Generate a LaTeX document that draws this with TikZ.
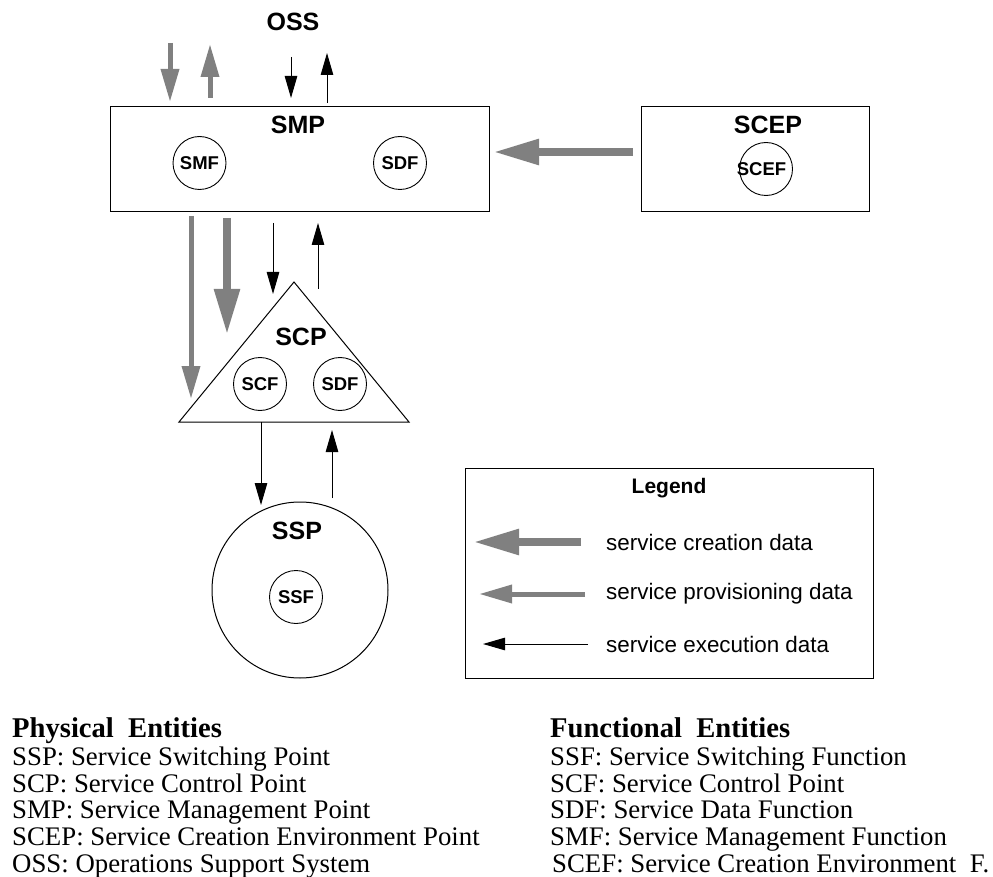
\documentclass[tikz,border=0pt]{standalone}
\usepackage{fontspec}
\setmainfont{Liberation Serif}
\newfontfamily\hv{Liberation Sans}
\usetikzlibrary{arrows.meta}
\definecolor{grayarr}{RGB}{128,128,128}
\begin{document}
\begin{tikzpicture}[x=1pt,y=-1pt,
  box/.style={draw,line width=1pt,inner sep=0pt},
  big/.style={font=\hv\bfseries\fontsize{25}{25}\selectfont,inner sep=0pt},
  fn/.style={circle,draw,line width=0.9pt,minimum size=53pt,inner sep=0pt,font=\hv\bfseries\fontsize{18.5}{18.5}\selectfont},
  creat/.style={draw=grayarr,line width=8.5pt,-{Triangle[length=46pt,width=24pt]}},
  prov/.style={draw=grayarr,line width=5pt,-{Triangle[length=33pt,width=17.5pt]}},
  exec/.style={draw=black,line width=1pt,-{Triangle[length=22pt,width=12.5pt]}},
  legtxt/.style={anchor=west,inner sep=0pt,font=\hv\fontsize{22.4}{22.4}\selectfont},
  btxt/.style={anchor=base west,inner sep=0pt,font=\fontsize{26.8}{26.8}\selectfont},
  bhead/.style={anchor=base west,inner sep=0pt,font=\bfseries\fontsize{28.6}{28.6}\selectfont},
]
\useasboundingbox (0,0) rectangle (993,877);

% OSS
\node[big] (oss) at (293,22) {OSS};

% SMP
\node[box,minimum width=379pt,minimum height=105pt] (smp) at (299.5,159.5) {};
\node[big] (smplbl) at (298,125) {SMP};
\node[fn] (smf) at (199.5,163) {SMF};
\node[fn] (sdf1) at (400,163) {SDF};

% SCEP
\node[box,minimum width=228pt,minimum height=105pt] (scep) at (755,159.5) {};
\node[big] (sceplbl) at (768,125) {SCEP};
\node[circle,draw,line width=0.9pt,minimum size=53pt,inner sep=0pt] (scefc) at (766,169) {};
\node[inner sep=0pt,font=\hv\bfseries\fontsize{18.5}{18.5}\selectfont] (scef) at (761.5,169) {SCEF};

% SCP triangle
\draw[line width=1pt,line join=miter] (179,422) coordinate (tl) -- (294,282) coordinate (tp) -- (409,422) coordinate (tr) -- cycle;
\node[big] (scplbl) at (301,337) {SCP};
\node[fn] (scf) at (260,384) {SCF};
\node[fn] (sdf2) at (340,384) {SDF};

% SSP
\node[circle,draw,line width=1pt,minimum size=176pt,inner sep=0pt] (ssp) at (300,590) {};
\node[big] (ssplbl) at (297,531) {SSP};
\node[fn] (ssf) at (296,597) {SSF};

% arrows above SMP
\draw[prov] (170,43) -- (170,102);
\draw[prov] (210,98) -- (210,44);
\draw[exec] (291,57) -- (291,98);
\draw[exec] (327,103) -- (327,53);

% SCEP -> SMP
\draw[creat] (633,152) -- (493,152);

% SMP -> SCP
\draw[prov] (191,216) -- (191,399);
\draw[creat] (227,218) -- (227,335);
\draw[exec] (273,223) -- (273,294);
\draw[exec] (318,289) -- (318,223);

% SCP <-> SSP
\draw[exec] (261,422) -- (261,505);
\draw[exec] (332,498) -- (332,430);

% Legend
\node[box,minimum width=408pt,minimum height=210pt] (legend) at (669,573) {};
\node[inner sep=0pt,font=\hv\bfseries\fontsize{21}{21}\selectfont] (legtitle) at (669,488) {Legend};
\draw[creat] (581,542) -- (473,542);
\draw[prov] (585,594) -- (479,594);
\draw[exec] (588,644) -- (483,644);
\node[legtxt] (l1) at (606,542) {service creation data};
\node[legtxt] (l2) at (606,594) {service provisioning data};
\node[legtxt] (l3) at (606,644) {service execution data};

% Bottom text
\node[bhead] (p0) at (12,737) {Physical\ \ Entities};
\node[btxt] (p1) at (12,765) {SSP: Service Switching Point};
\node[btxt] (p2) at (12,792) {SCP: Service Control Point};
\node[btxt] (p3) at (12,818) {SMP: Service Management Point};
\node[btxt] (p4) at (12,845) {SCEP: Service Creation Environment Point};
\node[btxt] (p5) at (12,872) {OSS: Operations Support System};

\node[bhead] (f0) at (550,737) {Functional\ \ Entities};
\node[btxt] (f1) at (550,765) {SSF: Service Switching Function};
\node[btxt] (f2) at (550,792) {SCF: Service Control Point};
\node[btxt] (f3) at (550,818) {SDF: Service Data Function};
\node[btxt] (f4) at (550,845) {SMF: Service Management Function};
\node[btxt] (f5) at (552,872) {SCEF: Service Creation Environment\ \ F.};
\end{tikzpicture}
\end{document}
